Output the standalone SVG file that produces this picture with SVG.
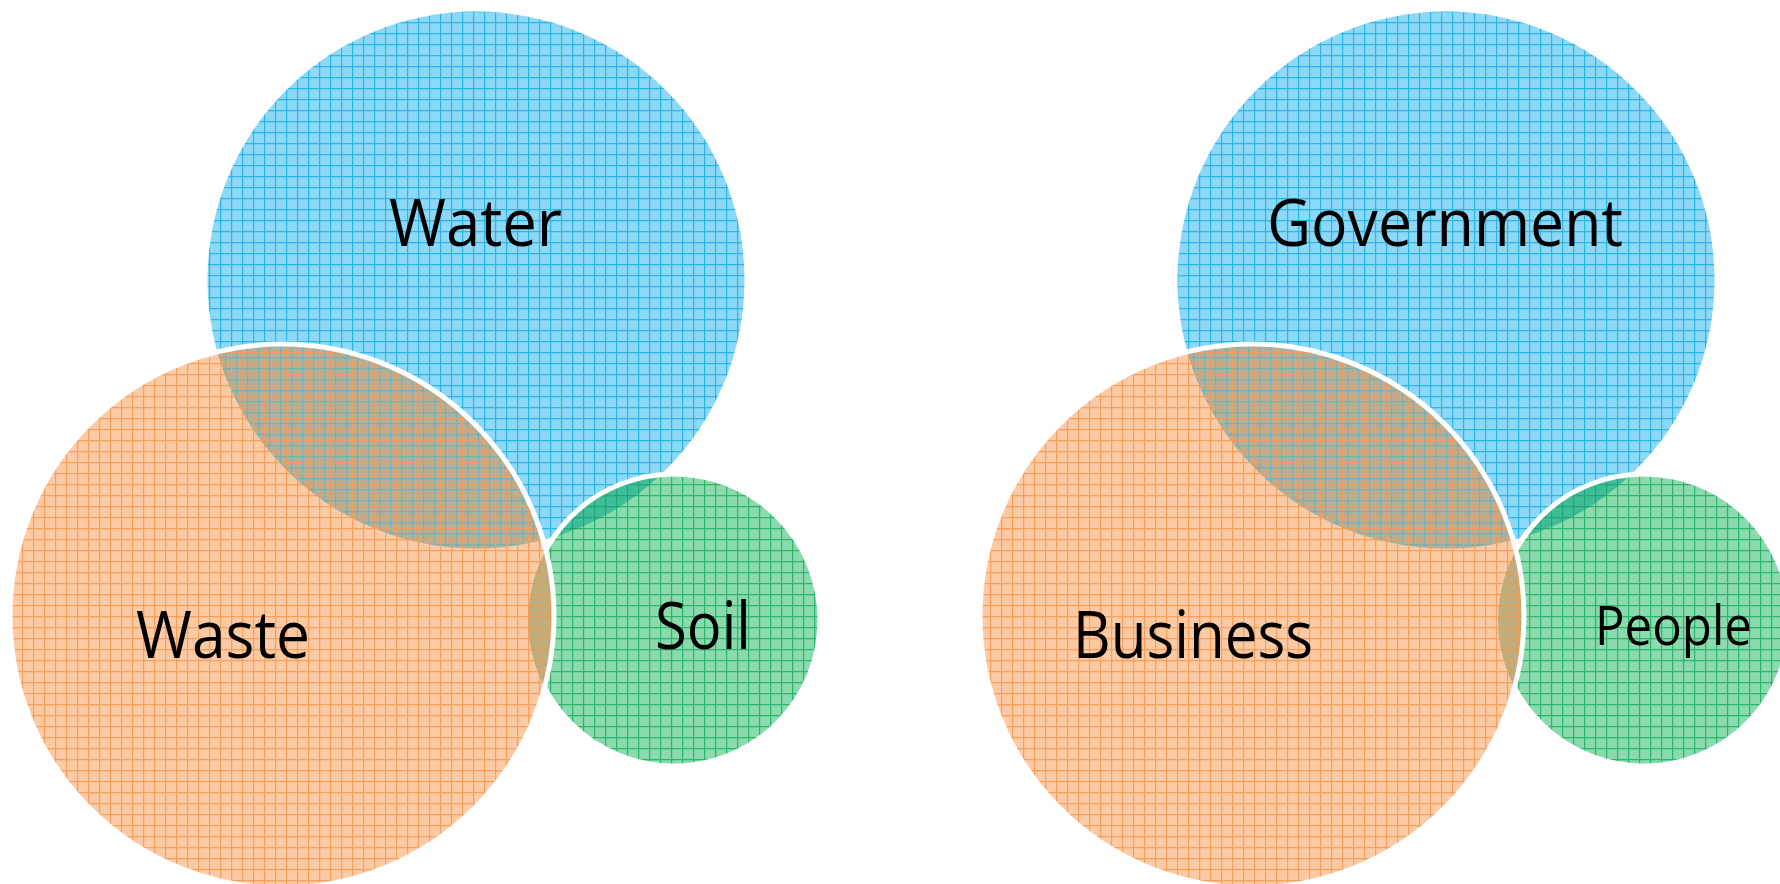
<svg xmlns="http://www.w3.org/2000/svg" width="1780" height="884" viewBox="0 0 1780 884">
  <style>
    .lbl { font-family: "Open Sans", "Noto Sans", "Liberation Sans", sans-serif; fill: #000; font-size: 66px; }
    .edge { fill: none; stroke: #fff; stroke-width: 5; }
    .blue { fill: url(#pBlue); }
    .orange { fill: url(#pOrange); }
    .green { fill: url(#pGreen); }
    .gray { fill: url(#pGray); }
    .teal { fill: url(#pTeal); }
    .olive { fill: url(#pOlive); }
  </style>
  <defs>
    <pattern id="pBlue" patternUnits="userSpaceOnUse" width="11" height="11">
      <rect width="11" height="11" fill="#8dd8f7"/>
      <path d="M0 0.6H11M0.6 0V11" stroke="#2bb6ea" stroke-width="1.2"/>
    </pattern>
    <pattern id="pOrange" patternUnits="userSpaceOnUse" width="11" height="11">
      <rect width="11" height="11" fill="#fccaa4"/>
      <path d="M0 0.6H11M0.6 0V11" stroke="#f6a05c" stroke-width="1.2"/>
    </pattern>
    <pattern id="pGreen" patternUnits="userSpaceOnUse" width="11" height="11">
      <rect width="11" height="11" fill="#8adaae"/>
      <path d="M0 0.6H11M0.6 0V11" stroke="#2ab66a" stroke-width="1.2"/>
    </pattern>
    <pattern id="pGray" patternUnits="userSpaceOnUse" width="11" height="11">
      <rect width="11" height="11" fill="#b8ae98"/>
      <path d="M0 5.6H11M5.6 0V11" stroke="#72b2b0" stroke-width="1.1"/>
      <path d="M0 0.6H11M0.6 0V11" stroke="#ec9e5e" stroke-width="1.1"/>
    </pattern>
    <pattern id="pTeal" patternUnits="userSpaceOnUse" width="11" height="11">
      <rect width="11" height="11" fill="#3fbd98"/>
      <path d="M0 0.6H11M0.6 0V11" stroke="#1fa57a" stroke-width="1.2"/>
    </pattern>
    <pattern id="pOlive" patternUnits="userSpaceOnUse" width="11" height="11">
      <rect width="11" height="11" fill="#c0ad7e"/>
      <path d="M0 0.6H11M0.6 0V11" stroke="#ea9c56" stroke-width="1.2"/>
    </pattern>
    <clipPath id="cWater"><circle cx="476" cy="280" r="268.5"/></clipPath>
    <clipPath id="cSoil"><circle cx="674" cy="620" r="146"/></clipPath>
    <clipPath id="cGov"><circle cx="1446" cy="280" r="268.5"/></clipPath>
    <clipPath id="cPeople"><circle cx="1644" cy="620" r="146"/></clipPath>
  </defs>
  <rect width="1780" height="884" fill="#fff"/>

  <!-- Left diagram -->
  <g id="water">
    <circle class="blue" cx="476" cy="280" r="268.5"/>
  </g>
  <g id="soil">
    <circle class="green" cx="674" cy="620" r="146"/>
    <circle class="teal" cx="674" cy="620" r="146" clip-path="url(#cWater)"/>
    <circle class="edge" cx="674" cy="620" r="146"/>
  </g>
  <g id="waste">
    <circle class="orange" cx="282" cy="616" r="272"/>
    <circle class="gray" cx="282" cy="616" r="272" clip-path="url(#cWater)"/>
    <circle class="olive" cx="282" cy="616" r="272" clip-path="url(#cSoil)"/>
    <circle class="edge" cx="282" cy="616" r="272"/>
  </g>
  <g id="labels-left">
    <text class="lbl" x="389" y="246" textLength="173" lengthAdjust="spacingAndGlyphs">Water</text>
    <text class="lbl" x="136" y="658" textLength="174" lengthAdjust="spacingAndGlyphs">Waste</text>
    <text class="lbl" x="655" y="649" textLength="96" lengthAdjust="spacingAndGlyphs">Soil</text>
  </g>

  <!-- Right diagram -->
  <g id="government">
    <circle class="blue" cx="1446" cy="280" r="268.5"/>
  </g>
  <g id="people">
    <circle class="green" cx="1644" cy="620" r="146"/>
    <circle class="teal" cx="1644" cy="620" r="146" clip-path="url(#cGov)"/>
    <circle class="edge" cx="1644" cy="620" r="146"/>
  </g>
  <g id="business">
    <circle class="orange" cx="1252" cy="616" r="272"/>
    <circle class="gray" cx="1252" cy="616" r="272" clip-path="url(#cGov)"/>
    <circle class="olive" cx="1252" cy="616" r="272" clip-path="url(#cPeople)"/>
    <circle class="edge" cx="1252" cy="616" r="272"/>
  </g>
  <g id="labels-right">
    <text class="lbl" x="1267" y="246" textLength="356" lengthAdjust="spacingAndGlyphs">Government</text>
    <text class="lbl" x="1073" y="658" textLength="240" lengthAdjust="spacingAndGlyphs">Business</text>
    <text class="lbl" x="1595" y="645" textLength="157" lengthAdjust="spacingAndGlyphs" style="font-size:54px">People</text>
  </g>
</svg>
